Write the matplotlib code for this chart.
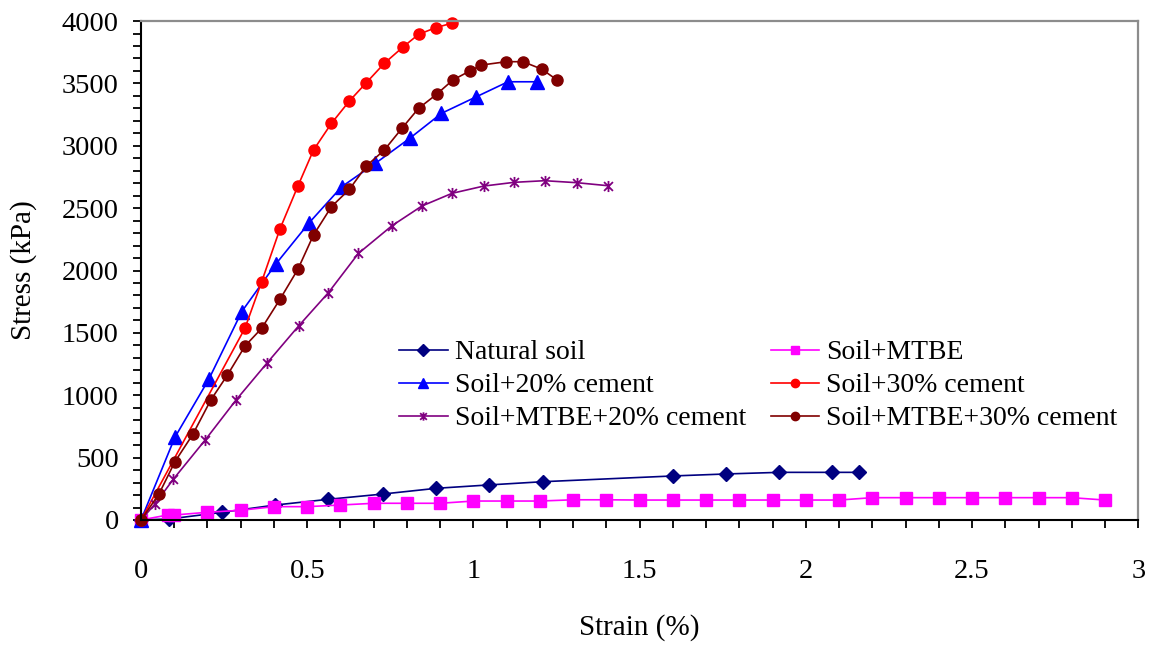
import numpy as np
import matplotlib
matplotlib.use('Agg')
import matplotlib.pyplot as plt
from matplotlib.path import Path
from matplotlib.ticker import MultipleLocator, FuncFormatter

# ==========================================
# 1. DADOS (tensão x deformação)
# ==========================================
natural_x = [0, 0.085, 0.245, 0.404, 0.564, 0.727, 0.888, 1.046, 1.209, 1.6, 1.76, 1.92, 2.08, 2.16]
natural_y = [0, 8, 62, 120, 166, 208, 254, 281, 307, 353, 369, 382, 382, 382]

mtbe_x = [0, 0.08, 0.1, 0.2, 0.3, 0.4, 0.5, 0.6, 0.7, 0.8, 0.9, 1.0, 1.1, 1.2, 1.3, 1.4,
          1.5, 1.6, 1.7, 1.8, 1.9, 2.0, 2.1, 2.2, 2.3, 2.4, 2.5, 2.6, 2.7, 2.8, 2.9]
mtbe_y = [0, 40, 40, 62, 78, 107, 107, 120, 134, 134, 134, 152, 152, 152, 162, 162,
          160, 160, 160, 160, 160, 160, 160, 179, 179, 179, 179, 179, 179, 179, 160]

c20_x = [0, 0.102, 0.204, 0.303, 0.405, 0.506, 0.604, 0.705, 0.808, 0.904, 1.009, 1.104, 1.191]
c20_y = [0, 663, 1128, 1670, 2050, 2383, 2672, 2859, 3059, 3260, 3393, 3513, 3513]

c30_x = [0, 0.313, 0.363, 0.418, 0.472, 0.519, 0.573, 0.627, 0.678, 0.732, 0.787, 0.835, 0.888, 0.935]
c30_y = [0, 1539, 1910, 2333, 2677, 2966, 3180, 3359, 3506, 3661, 3789, 3893, 3948, 3982]

mc20_x = [0, 0.042, 0.097, 0.193, 0.286, 0.380, 0.474, 0.564, 0.654, 0.755, 0.845, 0.936,
          1.031, 1.123, 1.214, 1.311, 1.404]
mc20_y = [0, 128, 326, 641, 962, 1261, 1555, 1823, 2137, 2359, 2517, 2619,
          2677, 2707, 2720, 2704, 2680]

mc30_x = [0, 0.054, 0.102, 0.156, 0.210, 0.260, 0.313, 0.363, 0.418, 0.472, 0.519, 0.573,
          0.627, 0.678, 0.732, 0.785, 0.835, 0.889, 0.938, 0.991, 1.024, 1.099, 1.149, 1.205, 1.252]
mc30_y = [0, 208, 467, 687, 962, 1162, 1395, 1537, 1769, 2010, 2285, 2512,
          2651, 2838, 2966, 3140, 3300, 3412, 3527, 3602, 3647, 3674, 3674, 3615, 3527]

labels = ['Natural soil', 'Soil+MTBE', 'Soil+20% cement', 'Soil+30% cement',
          'Soil+MTBE+20% cement', 'Soil+MTBE+30% cement']

# ==========================================
# 2. ESTILO
# ==========================================
plt.rcParams['font.family'] = ['Liberation Serif', 'DejaVu Serif']

# marcador tipo asterisco (X + traço vertical)
star = Path([(0, -1), (0, 1), (-0.8, -0.8), (0.8, 0.8), (-0.8, 0.8), (0.8, -0.8)],
            [Path.MOVETO, Path.LINETO] * 3)

fig = plt.figure(figsize=(11.51, 6.45), dpi=100)
ax = fig.add_axes([0.1225, 0.1938, 0.8664, 0.7736])

lw = 1.2
h_nat, = ax.plot(natural_x, natural_y, '-', color='#000080', lw=lw, marker='D', ms=7.5,
                 clip_on=False)
h_mtbe, = ax.plot(mtbe_x, mtbe_y, '-', color='#FF00FF', lw=lw, marker='s', ms=8,
                  clip_on=False)
h_c20, = ax.plot(c20_x, c20_y, '-', color='#0000FF', lw=lw, marker='^', ms=9.5,
                 clip_on=False)
h_c30, = ax.plot(c30_x, c30_y, '-', color='#FF0000', lw=lw, marker='o', ms=8,
                 clip_on=False)
h_mc20, = ax.plot(mc20_x, mc20_y, '-', color='#800080', lw=lw, marker=star, ms=8,
                  mew=1.3, clip_on=False)
h_mc30, = ax.plot(mc30_x, mc30_y, '-', color='#800000', lw=lw, marker='o', ms=8,
                  clip_on=False)

ax.set_xlim(0, 3)
ax.set_ylim(0, 4000)
ax.xaxis.set_major_locator(MultipleLocator(0.5))
ax.xaxis.set_minor_locator(MultipleLocator(0.1))
ax.yaxis.set_major_locator(MultipleLocator(500))
ax.yaxis.set_minor_locator(MultipleLocator(100))
ax.xaxis.set_major_formatter(FuncFormatter(lambda v, p: f'{v:g}'))

ax.tick_params(which='both', direction='out', length=6, width=1.3, top=False, right=False,
               labelsize=20.5)
ax.tick_params(axis='x', which='major', pad=22)
ax.tick_params(axis='y', which='major', pad=10)

for side in ['left', 'bottom']:
    ax.spines[side].set_color('black')
    ax.spines[side].set_linewidth(1.5)
for side in ['top', 'right']:
    ax.spines[side].set_color('#8c8c8c')
    ax.spines[side].set_linewidth(1.6)

ax.set_xlabel('Strain (%)', fontsize=21, labelpad=22)
ax.set_ylabel('Stress (kPa)', fontsize=21, labelpad=18)

# legenda em duas colunas (ordem por linhas)
handles = [h_nat, h_c20, h_mc20, h_mtbe, h_c30, h_mc30]
leg_labels = [labels[0], labels[2], labels[4], labels[1], labels[3], labels[5]]
leg = fig.legend(handles, leg_labels, ncol=2, frameon=False, fontsize=20,
                 loc='upper left', bbox_to_anchor=(0.3467, 0.473), borderpad=0,
                 borderaxespad=0, handlelength=1.75, handletextpad=0.25,
                 columnspacing=0.9, labelspacing=0.27, markerscale=0.75)

plt.savefig('out.png', dpi=100)
